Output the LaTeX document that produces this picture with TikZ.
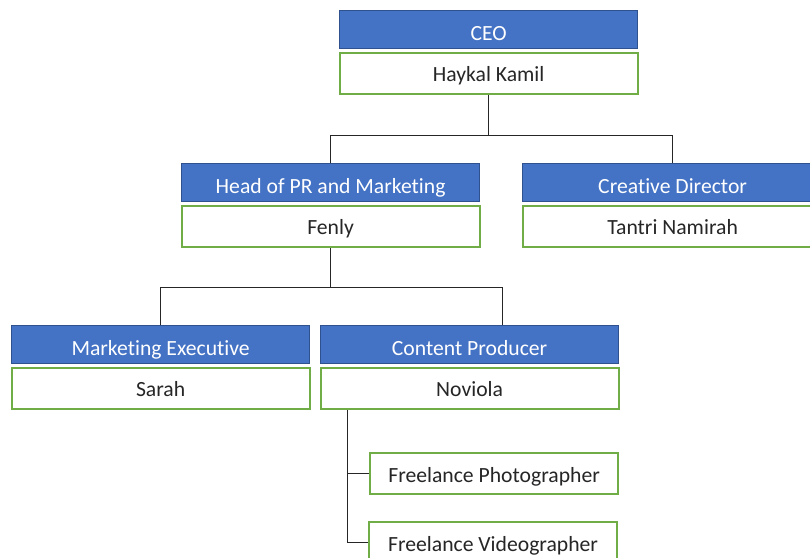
\documentclass[tikz,border=0pt]{standalone}
\usepackage{fontspec}
\setmainfont{Carlito}[Ligatures=NoCommon]
\usetikzlibrary{positioning}
\definecolor{hdrblue}{RGB}{68,114,196}
\definecolor{hdrline}{RGB}{47,82,143}
\definecolor{boxgreen}{RGB}{112,173,71}
\definecolor{txtdark}{RGB}{38,38,38}
\tikzset{
  rolebox/.style={rectangle, draw=hdrline, fill=hdrblue, text=white,
    minimum width=7.45cm, minimum height=0.95cm, inner sep=0pt,
    text height=15pt, text depth=0pt,
    font=\fontsize{15.4}{17}\selectfont, line width=0.8pt},
  namebox/.style={rectangle, draw=boxgreen, fill=white, text=txtdark,
    minimum width=7.45cm, minimum height=1.03cm, inner sep=0pt,
    text height=13pt, text depth=1pt,
    font=\fontsize{15.4}{17}\selectfont, line width=1.5pt},
  freebox/.style={namebox, minimum width=6.2cm},
  link/.style={line width=0.7pt, color=txtdark}
}
\begin{document}
\begin{tikzpicture}[x=0.025cm, y=-0.025cm, node distance=0.06cm]
  \clip (0,0) rectangle (810,558);
  \fill[white] (0,0) rectangle (810,558);
  % top level
  \node[rolebox, anchor=north west] (ceo) at (339,10) {CEO};
  \node[namebox, below=of ceo] (ceoname) {Haykal Kamil};
  % second level
  \node[rolebox, anchor=north west] (headpr) at (181,163) {Head of PR and Marketing};
  \node[namebox, below=of headpr] (fenly) {Fenly};
  \node[rolebox, anchor=north west, minimum width=7.5cm] (creative) at (522,163) {Creative Director};
  \node[namebox, below=of creative, minimum width=7.5cm] (tantri) {Tantri Namirah};
  % third level
  \node[rolebox, anchor=north west] (mktexec) at (11,325) {Marketing Executive};
  \node[namebox, below=of mktexec] (sarah) {Sarah};
  \node[rolebox, anchor=north west] (contentp) at (320,325) {Content Producer};
  \node[namebox, below=of contentp] (noviola) {Noviola};
  % freelancers
  \node[freebox, anchor=north west] (photo) at (369,452) {Freelance Photographer};
  \node[freebox, anchor=north west] (video) at (368,521) {Freelance Videographer};

  \coordinate (j1) at (491,135);
  \coordinate (j2) at (502,287);
  \coordinate (j3) at (347,410);
  \draw[link] (ceoname.south) -- (ceoname.south |- j1);
  \draw[link] (headpr.north) |- (creative.north |- j1) -- (creative.north);
  \draw[link] (fenly.south) -- (fenly.south |- j2);
  \draw[link] (mktexec.north) |- (j2) -- (j2 |- contentp.north);
  \draw[link] (j3) |- (photo.west);
  \draw[link] (j3) |- (video.west);
\end{tikzpicture}
\end{document}
